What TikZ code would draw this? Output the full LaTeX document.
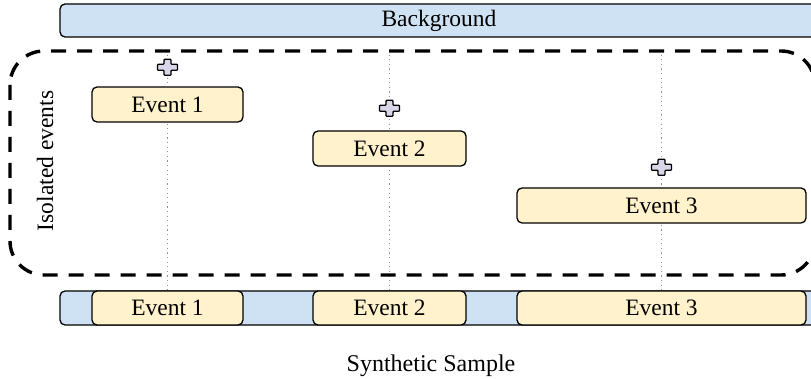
\documentclass[tikz,border=0pt]{standalone}
\usepackage{fontspec}
\setmainfont{Liberation Serif}
\usepackage{tikz}
\usetikzlibrary{backgrounds}

\definecolor{bgblue}{HTML}{CFE2F3}
\definecolor{evyellow}{HTML}{FFF2CC}
\definecolor{pluslav}{HTML}{DAD6EA}

\tikzset{
  evbox/.style={draw, line width=1.3pt, rounded corners=5pt, fill=evyellow, inner sep=0pt},
  bgbar/.style={draw, line width=1.3pt, rounded corners=5pt, fill=bgblue, inner sep=0pt},
  guide/.style={gray!85, line width=1.2pt, dash pattern=on 1.2pt off 3.4pt},
  isobox/.style={line width=3.4pt, dash pattern=on 15pt off 11pt, rounded corners=34pt},
  plussign/.pic={
    \draw[fill=pluslav, line width=1.3pt, rounded corners=0.8pt]
      (-10,-3) -- (-3.5,-3) -- (-3.5,-8) -- (3.5,-8) -- (3.5,-3) -- (10,-3)
      -- (10,3) -- (3.5,3) -- (3.5,8) -- (-3.5,8) -- (-3.5,3) -- (-10,3) -- cycle;
  }
}

\begin{document}
\begin{tikzpicture}[x=1pt,y=-1pt,font=\fontsize{23.5}{28}\selectfont]
\useasboundingbox (0,0) rectangle (811,379);
\clip (0,0) rectangle (811,379);

% background on top
\node[bgbar, minimum width=758pt, minimum height=33pt] (bg) at (439,20.5) {Background};

% the isolated events
\draw[isobox] (10,51) rectangle (815,275);
\coordinate (top) at (0,50);
\node[rotate=90] (iso) at (45,161) {Isolated events};
\node[evbox, minimum width=151pt, minimum height=35pt] (ev1) at (167.5,104.5) {Event 1};
\node[evbox, minimum width=153pt, minimum height=35pt] (ev2) at (389.5,148.5) {Event 2};
\node[evbox, minimum width=289pt, minimum height=35pt] (ev3) at (661.5,205.5) {Event 3};
\pic at ([yshift=19pt]ev1.north) {plussign};
\pic at ([yshift=22pt]ev2.north) {plussign};
\pic at ([yshift=20pt]ev3.north) {plussign};

% the synthetic sample
\node[bgbar, minimum width=758pt, minimum height=34pt] (sample) at (439,308) {};
\node[evbox, minimum width=151pt, minimum height=34pt] (s1) at (167.5,308) {Event 1};
\node[evbox, minimum width=153pt, minimum height=34pt] (s2) at (389.5,308) {Event 2};
\node[evbox, minimum width=289pt, minimum height=34pt] (s3) at (661.5,308) {Event 3};
\node[anchor=base, font=\fontsize{24}{28}\selectfont] (title) at (431,371.5) {Synthetic Sample};

% guides
\begin{scope}[on background layer]
\draw[guide] (ev1 |- top) -- (s1.north);
\draw[guide] (ev2 |- top) -- (s2.north);
\draw[guide] (ev3 |- top) -- (s3.north);
\end{scope}
\end{tikzpicture}
\end{document}
